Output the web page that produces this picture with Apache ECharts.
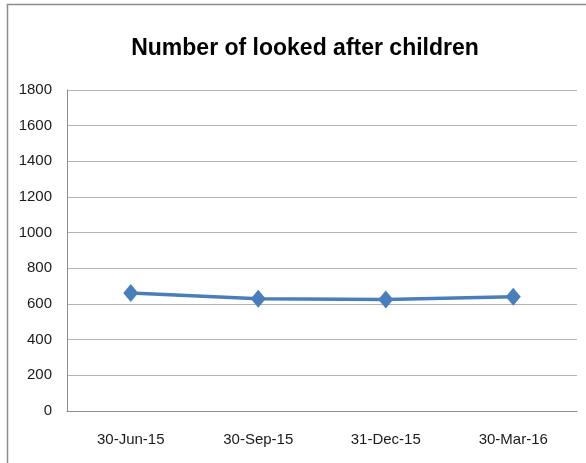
<!DOCTYPE html>
<html>
<head>
<meta charset="utf-8">
<script src="https://cdn.jsdelivr.net/npm/echarts@6/dist/echarts.min.js"></script>
<style>
html,body{margin:0;padding:0;background:#fff;}
#chart{width:586px;height:463px;}
</style>
</head>
<body>
<div id="chart"></div>
<script>
const titleText = "Number of looked after children";
const categories = ["30-Jun-15", "30-Sep-15", "31-Dec-15", "30-Mar-16"];
const childrenValues = [661, 630, 625, 641];
const yTicks = { min: 0, max: 1800, interval: 200 };

const FONT = '"Liberation Sans", Arial, sans-serif';
const chart = echarts.init(document.getElementById('chart'), null, { renderer: 'canvas' });
chart.setOption({
  animation: false,
  backgroundColor: '#ffffff',
  title: {
    text: titleText,
    left: 300,
    textAlign: 'center',
    top: 32,
    textStyle: { fontFamily: FONT, fontSize: 23, fontWeight: 'bold', color: '#000000' }
  },
  graphic: [{
    type: 'rect',
    shape: { x: 7.5, y: 4.5, width: 620, height: 520 },
    style: { fill: 'none', stroke: '#8c8c8c', lineWidth: 1.5 },
    silent: true
  }],
  grid: { left: 67, right: 9, top: 90, bottom: 52, containLabel: false },
  xAxis: {
    type: 'category',
    data: categories,
    boundaryGap: true,
    axisLine: { show: true, lineStyle: { color: '#8c8c8c', width: 1 } },
    axisTick: { show: false },
    axisLabel: { fontFamily: FONT, fontSize: 15, color: '#1a1a1a', margin: 21 },
    splitLine: { show: false }
  },
  yAxis: {
    type: 'value',
    min: yTicks.min,
    max: yTicks.max,
    interval: yTicks.interval,
    axisLine: { show: true, lineStyle: { color: '#8c8c8c', width: 1 } },
    axisTick: { show: false },
    axisLabel: { fontFamily: FONT, fontSize: 15, color: '#1a1a1a', margin: 15, formatter: function (v) { return String(v); } },
    splitLine: { show: true, lineStyle: { color: '#b3b3b3', width: 1 } }
  },
  series: [{
    type: 'line',
    data: childrenValues,
    symbol: 'diamond',
    symbolSize: [15, 18],
    lineStyle: { color: '#4a7ebb', width: 3.5 },
    itemStyle: { color: '#4a7ebb' }
  }]
});
</script>
</body>
</html>
